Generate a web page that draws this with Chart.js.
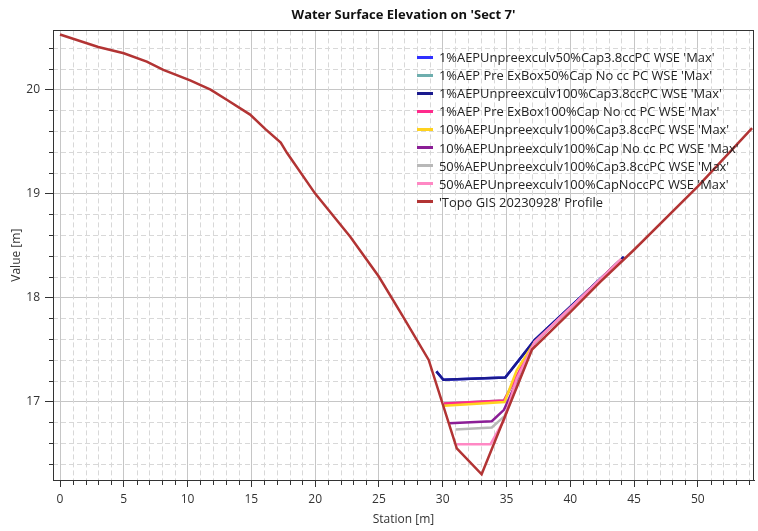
<!DOCTYPE html>
<html>
<head>
<meta charset="utf-8">
<script src="https://cdn.jsdelivr.net/npm/chart.js@4.4.0/dist/chart.umd.min.js"></script>
<style>
  html, body { margin: 0; padding: 0; background: #fff; }
  #wrap { position: relative; width: 758px; height: 531px; }
  #legend { position: absolute; left: 417px; top: 48px; font-family: "Open Sans", sans-serif; font-size: 12.9px; color: #222; }
  .item { height: 18.1px; display: flex; align-items: center; white-space: nowrap; }
  .swatch { width: 16px; height: 3px; margin-right: 6px; }
</style>
</head>
<body>
<div id="wrap">
  <canvas id="chart" width="758" height="531"></canvas>
  <div id="legend"></div>
</div>
<script>
const fontFamily = '"Open Sans", sans-serif';

// axis ticks
const xTickValues = [0, 5, 10, 15, 20, 25, 30, 35, 40, 45, 50];
const yTickValues = [17, 18, 19, 20];
const xMinorStep = 1;
const yMinorStep = 0.2;

// ground profile
const topoStation = [0, 3.0, 5.0, 6.8, 8.1, 10.2, 11.8, 13.1, 14.9, 16.1, 17.3, 17.8, 20.0, 22.75, 25.0, 26.9, 28.9, 31.1, 33.05, 37.0, 40.0, 42.35, 45.0, 50.0, 54.25];
const topoElev = [20.53, 20.41, 20.35, 20.27, 20.19, 20.09, 20.0, 19.90, 19.76, 19.62, 19.49, 19.39, 19.0, 18.585, 18.2, 17.815, 17.40, 16.55, 16.30, 17.50, 17.86, 18.15, 18.46, 19.07, 19.63];

// max water surface, per run
const stn1Unp = [29.5, 30.05, 34.9, 37.2, 44.2];
const wse1Unp50Cc = [17.29, 17.21, 17.23, 17.59, 18.39];
const wse1Unp100Cc = [17.29, 17.21, 17.23, 17.59, 18.39];

const stn1PreEx = [30.1, 34.8, 37.2, 44.0];
const wse1PreEx50 = [16.98, 17.01, 17.57, 18.37];
const wse1PreEx100 = [16.98, 17.01, 17.57, 18.37];

const stn10Cc = [30.1, 34.85, 35.8, 37.2, 44.0];
const wse10Cc = [16.96, 16.995, 17.30, 17.57, 18.37];

const stn10NoCc = [30.5, 33.85, 34.8, 37.2, 44.0];
const wse10NoCc = [16.79, 16.81, 16.92, 17.57, 18.37];

const stn50Cc = [31.0, 33.85, 34.85, 37.2, 44.0];
const wse50Cc = [16.73, 16.75, 16.86, 17.57, 18.37];

const stn50NoCc = [31.1, 33.75, 34.8, 35.8, 37.2, 44.0];
const wse50NoCc = [16.59, 16.59, 16.82, 17.22, 17.57, 18.37];

const seriesLabels = [
  "1%AEPUnpreexculv50%Cap3.8ccPC WSE 'Max'",
  "1%AEP Pre ExBox50%Cap No cc PC WSE 'Max'",
  "1%AEPUnpreexculv100%Cap3.8ccPC WSE 'Max'",
  "1%AEP Pre ExBox100%Cap No cc PC WSE 'Max'",
  "10%AEPUnpreexculv100%Cap3.8ccPC WSE 'Max'",
  "10%AEPUnpreexculv100%Cap No cc PC WSE 'Max'",
  "50%AEPUnpreexculv100%Cap3.8ccPC WSE 'Max'",
  "50%AEPUnpreexculv100%CapNoccPC WSE 'Max'",
  "'Topo GIS 20230928' Profile"
];
const seriesColors = ['#3030ff', '#6eaeae', '#1a1a8e', '#ff2a8c', '#ffd21e', '#8b1e96', '#b8b8b8', '#ff88c4', '#b23434'];

const seriesStations = [stn1Unp, stn1PreEx, stn1Unp, stn1PreEx, stn10Cc, stn10NoCc, stn50Cc, stn50NoCc, topoStation];
const seriesValues = [wse1Unp50Cc, wse1PreEx50, wse1Unp100Cc, wse1PreEx100, wse10Cc, wse10NoCc, wse50Cc, wse50NoCc, topoElev];
// draw order: profile on top, then later runs over earlier ones
const seriesOrder = [8, 7, 6, 5, 4, 3, 2, 1, 0];

function toPoints(xs, ys) {
  return xs.map((x, i) => ({ x: x, y: ys[i] }));
}

const datasets = seriesLabels.map((label, i) => ({
  label: label,
  data: toPoints(seriesStations[i], seriesValues[i]),
  borderColor: seriesColors[i],
  backgroundColor: seriesColors[i],
  borderWidth: 2.5,
  pointRadius: 0,
  tension: 0,
  fill: false,
  order: seriesOrder[i]
}));

// dashed minor grid, minor tick marks and the plot frame
const minorGrid = {
  id: 'minorGrid',
  beforeDatasetsDraw(chart) {
    const { ctx, chartArea: a, scales: { x, y } } = chart;
    ctx.save();
    ctx.lineWidth = 1;
    ctx.strokeStyle = '#d8d8d8';
    ctx.setLineDash([5, 3]);
    ctx.beginPath();
    for (let v = Math.ceil(x.min); v <= x.max; v += xMinorStep) {
      if (v % 5 === 0) continue;
      const px = Math.round(x.getPixelForValue(v)) + 0.5;
      ctx.moveTo(px, a.top);
      ctx.lineTo(px, a.bottom);
    }
    const i0 = Math.ceil(y.min / yMinorStep), i1 = Math.floor(y.max / yMinorStep);
    for (let i = i0; i <= i1; i++) {
      if (i % 5 === 0) continue;
      const py = Math.round(y.getPixelForValue(i * yMinorStep)) + 0.5;
      ctx.moveTo(a.left, py);
      ctx.lineTo(a.right, py);
    }
    ctx.stroke();

    // minor ticks
    ctx.setLineDash([]);
    ctx.strokeStyle = '#333';
    ctx.beginPath();
    for (let v = Math.ceil(x.min); v <= x.max; v += xMinorStep) {
      if (v % 5 === 0) continue;
      const px = Math.round(x.getPixelForValue(v)) + 0.5;
      ctx.moveTo(px, a.bottom);
      ctx.lineTo(px, a.bottom + 5);
    }
    for (let i = i0; i <= i1; i++) {
      if (i % 5 === 0) continue;
      const py = Math.round(y.getPixelForValue(i * yMinorStep)) + 0.5;
      ctx.moveTo(a.left - 4, py);
      ctx.lineTo(a.left, py);
    }
    ctx.stroke();
    ctx.restore();
  },
  afterDraw(chart) {
    const { ctx, chartArea: a } = chart;
    ctx.save();
    ctx.strokeStyle = '#333';
    ctx.lineWidth = 1;
    ctx.strokeRect(Math.round(a.left) + 0.5, Math.round(a.top) + 0.5, Math.round(a.right - a.left) - 1, Math.round(a.bottom - a.top));
    ctx.restore();
  }
};

const ctx = document.getElementById('chart').getContext('2d');
const chart = new Chart(ctx, {
  type: 'line',
  data: { datasets: datasets },
  plugins: [minorGrid],
  options: {
    responsive: false,
    animation: false,
    layout: { padding: { left: 0, right: 4, top: 0, bottom: 0 } },
    plugins: {
      legend: { display: false },
      tooltip: { enabled: false },
      title: {
        display: true,
        text: "Water Surface Elevation on 'Sect 7'",
        fullSize: false,
        color: '#111',
        font: { family: fontFamily, size: 13, weight: 'bold', lineHeight: 1.2 },
        padding: { top: 7, bottom: 7.8 }
      }
    },
    scales: {
      x: {
        type: 'linear',
        min: -0.55,
        max: 54.4,
        afterBuildTicks: s => { s.ticks = xTickValues.map(v => ({ value: v })); },
        afterFit: s => { s.height = 51; },
        grid: { color: '#c6c6c6', tickColor: '#333', tickLength: 7 },
        border: { color: '#333', width: 1 },
        ticks: { color: '#333', font: { family: fontFamily, size: 12 }, padding: 5, maxRotation: 0, autoSkip: false, callback: v => String(v) },
        title: { display: true, text: 'Station [m]', color: '#333', font: { family: fontFamily, size: 12 }, padding: { top: 0, bottom: 4 } }
      },
      y: {
        type: 'linear',
        min: 16.245,
        max: 20.57,
        afterBuildTicks: s => { s.ticks = yTickValues.map(v => ({ value: v })); },
        afterFit: s => { s.width = 53; },
        grid: { color: '#c6c6c6', tickColor: '#333', tickLength: 8 },
        border: { color: '#333', width: 1 },
        ticks: { color: '#333', font: { family: fontFamily, size: 12 }, padding: 5, autoSkip: false, callback: v => String(v) },
        title: { display: true, text: 'Value [m]', color: '#333', font: { family: fontFamily, size: 12 }, padding: { top: 9, bottom: 0 } }
      }
    }
  }
});

// legend drawn inside the plot, like the reference
const legendEl = document.getElementById('legend');
seriesLabels.forEach((label, i) => {
  const row = document.createElement('div');
  row.className = 'item';
  const sw = document.createElement('span');
  sw.className = 'swatch';
  sw.style.background = seriesColors[i];
  const tx = document.createElement('span');
  tx.textContent = label;
  row.appendChild(sw);
  row.appendChild(tx);
  legendEl.appendChild(row);
});
</script>
</body>
</html>
